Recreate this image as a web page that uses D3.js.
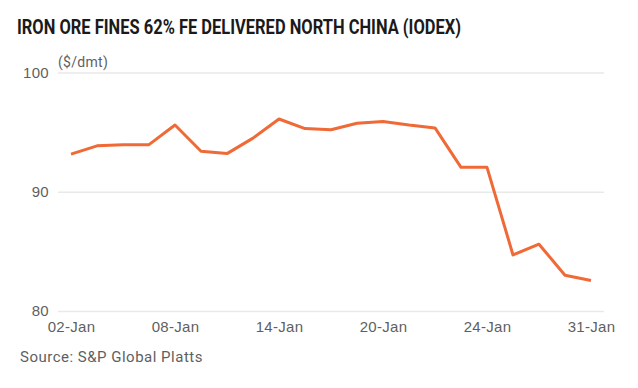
<!DOCTYPE html>
<html lang="en">
<head>
  <meta charset="UTF-8">
  <title>Iron ore fines 62% Fe (IODEX)</title>
  <style>
    body {
      margin: 0;
      background: #fff;
      font-family: Roboto, "Noto Sans", sans-serif;
    }

    .grid line {
      stroke: #e9e9e9;
      stroke-width: 1.5px;
    }

    .axis text {
      fill: #5f5f5f;
      font-size: 15px;
      letter-spacing: 0.3px;
    }

    .price-line {
      fill: none;
      stroke: #ef6a36;
      stroke-width: 3px;
      stroke-linejoin: round;
    }
  </style>
  <script src="https://d3js.org/d3.v7.min.js"></script>
</head>
<body>
  <div id="chart"></div>

  <script>
    // -----------------------------
    // Data
    // -----------------------------
    const dates = [
      "02-Jan", "03-Jan", "06-Jan", "07-Jan", "08-Jan", "09-Jan", "10-Jan",
      "13-Jan", "14-Jan", "15-Jan", "16-Jan", "17-Jan", "20-Jan", "21-Jan",
      "22-Jan", "23-Jan", "24-Jan", "28-Jan", "29-Jan", "30-Jan", "31-Jan"
    ];
    const prices = [
      93.15, 93.85, 93.95, 93.95, 95.6, 93.4, 93.2,
      94.5, 96.1, 95.3, 95.2, 95.75, 95.9, 95.6,
      95.35, 92.05, 92.05, 84.7, 85.6, 83.0, 82.55
    ];
    const xTickLabels = ["02-Jan", "08-Jan", "14-Jan", "20-Jan", "24-Jan", "31-Jan"];
    const yTicks = [80, 90, 100];

    // -----------------------------
    // Setup
    // -----------------------------
    const width = 638;
    const height = 388;
    const plot = { left: 58, right: 604, top: 72.5, bottom: 311 };

    const svg = d3.select("#chart")
      .append("svg")
      .attr("width", width)
      .attr("height", height);

    const x = d3.scalePoint()
      .domain(dates)
      .range([plot.left, plot.right])
      .padding(0.5);

    const y = d3.scaleLinear()
      .domain([80, 100])
      .range([plot.bottom, plot.top]);

    // title
    svg.append("text")
      .attr("x", 17)
      .attr("y", 33.5)
      .attr("textLength", 444)
      .attr("lengthAdjust", "spacingAndGlyphs")
      .style("font-family", "Roboto, sans-serif")
      .style("font-weight", "700")
      .style("font-size", "21px")
      .style("fill", "#1a1a1a")
      .text("IRON ORE FINES 62% FE DELIVERED NORTH CHINA (IODEX)");

    // y axis + gridlines
    const yAxis = svg.append("g")
      .attr("class", "axis grid")
      .attr("transform", "translate(" + plot.left + ",0)")
      .call(d3.axisLeft(y)
        .tickValues(yTicks)
        .tickSize(-(plot.right - plot.left))
        .tickPadding(9));
    yAxis.select(".domain").remove();

    // units label
    svg.append("text")
      .attr("x", 58)
      .attr("y", 67)
      .style("font-size", "14px")
      .style("letter-spacing", "0.3px")
      .style("fill", "#5f5f5f")
      .text("($/dmt)");

    // x axis
    const xAxis = svg.append("g")
      .attr("class", "axis")
      .attr("transform", "translate(0," + plot.bottom + ")")
      .call(d3.axisBottom(x)
        .tickValues(xTickLabels)
        .tickSize(0)
        .tickPadding(10));
    xAxis.select(".domain").remove();

    // line
    const line = d3.line()
      .x((d, i) => x(dates[i]))
      .y(d => y(d));

    svg.append("path")
      .datum(prices)
      .attr("class", "price-line")
      .attr("d", line);

    // source
    svg.append("text")
      .attr("x", 20)
      .attr("y", 362)
      .style("font-size", "15px")
      .style("letter-spacing", "0.5px")
      .style("fill", "#5f5f5f")
      .text("Source: S&P Global Platts");
  </script>
</body>
</html>
